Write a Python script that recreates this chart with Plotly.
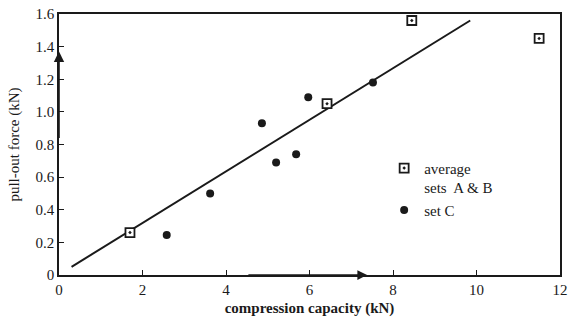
import plotly.graph_objects as go

# data
avg_x = [1.70, 6.42, 8.45, 11.5]
avg_y = [0.26, 1.05, 1.56, 1.45]
setc_x = [2.58, 3.62, 4.86, 5.20, 5.68, 5.97, 7.52]
setc_y = [0.245, 0.50, 0.93, 0.69, 0.74, 1.09, 1.18]
fit_x = [0.3, 9.85]
fit_y = [0.05, 1.56]
x_ticks = [0, 2, 4, 6, 8, 10, 12]
y_ticks = [0, 0.2, 0.4, 0.6, 0.8, 1.0, 1.2, 1.4, 1.6]
y_tick_text = ["0", "0.2", "0.4", "0.6", "0.8", "1.0", "1.2", "1.4", "1.6"]

FONT = "Liberation Serif"
INK = "#1a1a1a"

fig = go.Figure()
fig.add_trace(go.Scatter(x=fit_x, y=fit_y, mode="lines",
                         line=dict(color=INK, width=2), showlegend=False))
fig.add_trace(go.Scatter(x=avg_x, y=avg_y, mode="markers", name="average<br>sets  A & B",
                         marker=dict(symbol="square-dot", size=9, color="white",
                                     line=dict(color=INK, width=1.8))))
fig.add_trace(go.Scatter(x=setc_x, y=setc_y, mode="markers", name="set C",
                         marker=dict(symbol="circle", size=8, color=INK)))

# arrows along axes
fig.add_annotation(x=0, y=1.37, ax=0, ay=0.83, xref="x", yref="y", axref="x", ayref="y",
                   showarrow=True, arrowhead=2, arrowsize=1.3, arrowwidth=1.6,
                   arrowcolor=INK, text="")
fig.add_annotation(x=7.38, y=0, ax=4.5, ay=0, xref="x", yref="y", axref="x", ayref="y",
                   showarrow=True, arrowhead=2, arrowsize=1.3, arrowwidth=1.5,
                   arrowcolor=INK, text="")

fig.update_layout(
    width=568, height=329,
    margin=dict(l=59, r=8, t=14, b=54),
    paper_bgcolor="white", plot_bgcolor="white",
    font=dict(family=FONT, size=15, color=INK),
    legend=dict(x=0.649, y=0.472, xanchor="left", yanchor="top",
                bgcolor="rgba(0,0,0,0)", valign="top",
                font=dict(family=FONT, size=15, color=INK),
                itemwidth=30),
    xaxis=dict(range=[0, 12], tickvals=x_ticks, ticks="inside", ticklen=5,
               tickcolor=INK, showgrid=False, zeroline=False, automargin=False,
               showline=True, linecolor=INK, linewidth=1.5, mirror=True,
               tickfont=dict(family=FONT, size=15),
               title=dict(text="<b>compression capacity (kN)</b>", standoff=6,
                          font=dict(family=FONT, size=15))),
    yaxis=dict(range=[0, 1.6], tickvals=y_ticks, ticktext=y_tick_text,
               ticks="inside", ticklen=5, tickcolor=INK, showgrid=False, zeroline=False,
               automargin=False,
               showline=True, linecolor=INK, linewidth=1.5, mirror=True,
               tickfont=dict(family=FONT, size=15),
               title=dict(text="pull-out force (kN)", standoff=12,
                          font=dict(family=FONT, size=15))),
)

fig.write_html("out.html", config={"displayModeBar": False},
               post_script="document.body.style.margin='0';document.body.style.overflow='hidden';")
